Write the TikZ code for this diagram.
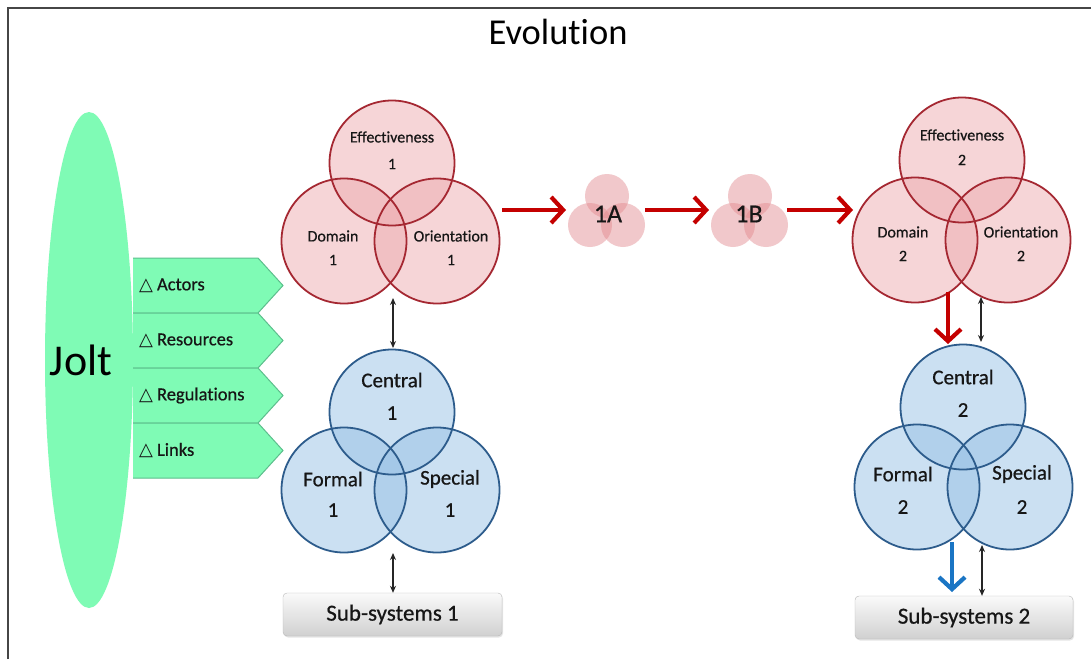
\documentclass[tikz,border=0pt]{standalone}
\usepackage{fontspec}
\setmainfont{Carlito}[Ligatures=NoCommon]
\newfontfamily\lblfont{Carlito}[Ligatures=NoCommon, FakeBold=0.6]
\newfontfamily\symfont{DejaVu Sans}
\usetikzlibrary{arrows.meta,shapes.geometric,shadows}

\definecolor{mint}{RGB}{127,251,181}
\definecolor{mintline}{RGB}{92,190,140}
\definecolor{txt}{RGB}{22,22,22}
\definecolor{frameline}{RGB}{70,70,70}
\definecolor{rA}{RGB}{238,172,177}
\definecolor{rB}{RGB}{226,135,140}
\definecolor{rC}{RGB}{196,88,94}
\definecolor{rrimc}{RGB}{165,40,50}
\definecolor{bA}{RGB}{152,194,230}
\definecolor{bB}{RGB}{122,172,216}
\definecolor{bC}{RGB}{78,132,188}
\definecolor{brimc}{RGB}{45,92,140}
\definecolor{smallred}{RGB}{226,135,140}
\definecolor{arrred}{RGB}{196,0,0}
\definecolor{arrblue}{RGB}{26,117,196}
\definecolor{boxtop}{RGB}{250,250,250}
\definecolor{boxbot}{RGB}{208,208,208}
\definecolor{boxline}{RGB}{185,185,185}

% glassy discs: light centre, darker rim
\pgfdeclareradialshading{redglass}{\pgfpoint{0bp}{0bp}}{color(0bp)=(rA); color(36bp)=(rA); color(46bp)=(rB); color(50bp)=(rC)}
\pgfdeclareradialshading{blueglass}{\pgfpoint{0bp}{0bp}}{color(0bp)=(bA); color(36bp)=(bA); color(46bp)=(bB); color(50bp)=(bC)}

\tikzset{
  rglass/.style={circle, minimum size=125pt, inner sep=0pt, shade, shading=redglass, fill opacity=0.5},
  bglass/.style={circle, minimum size=125pt, inner sep=0pt, shade, shading=blueglass, fill opacity=0.5},
  sglass/.style={circle, minimum size=44pt, inner sep=0pt, fill=smallred, fill opacity=0.45},
  rrim/.style={draw=rrimc, line width=1.8pt},
  brim/.style={draw=brimc, line width=1.8pt},
  rlbl/.style={font=\lblfont\fontsize{16}{18}\selectfont, text=txt, inner sep=0pt},
  blbl/.style={font=\lblfont\fontsize{21}{24}\selectfont, text=txt, inner sep=0pt},
  slbl/.style={font=\lblfont\fontsize{26}{28}\selectfont, text=txt, inner sep=0pt},
  plbl/.style={font=\lblfont\fontsize{18.5}{21}\selectfont, text=txt, inner sep=0pt, anchor=west},
  subbox/.style={rectangle, rounded corners=4pt, draw=boxline, top color=boxtop, bottom color=boxbot,
    font=\lblfont\fontsize{23}{26}\selectfont, text=txt, drop shadow={opacity=0.2, shadow xshift=1pt, shadow yshift=-1.5pt}},
  redarrow/.style={draw=arrred, line width=4.2pt, -{Straight Barb[length=12pt,width=26pt]}},
  bluearrow/.style={draw=arrblue, line width=4.2pt, -{Straight Barb[length=12pt,width=26pt]}},
  dblarrow/.style={draw=black!85, line width=1.2pt, {Stealth[length=7pt,width=6pt]}-{Stealth[length=7pt,width=6pt]}}
}

\begin{document}
\begin{tikzpicture}[x=1pt,y=-1pt]
\useasboundingbox (0,0) rectangle (1091,659);
\fill[white] (0,0) rectangle (1091,659);

% frame
\draw[frameline, line width=2pt] (8,659) -- (8,8) -- (1091,8);

% title
\node[font=\fontsize{36.5}{40}\selectfont, text=black, inner sep=0pt] (title) at (558,32) {Evolution};

% Jolt
\node[ellipse, fill=mint, minimum width=88pt, minimum height=496pt, inner sep=0pt] (jolt) at (89,360) {};
\node[font=\fontsize{44}{48}\selectfont, text=black, inner sep=0pt] (joltT) at (81,360) {Jolt};

% change pentagons
\foreach \lab [count=\i] in {Actors,Resources,Regulations,Links} {
  \pgfmathsetmacro{\y}{258+55*(\i-1)}
  \fill[mint] (133,\y) -- (258,\y) -- (283,\y+27.5) -- (258,\y+55) -- (133,\y+55) -- cycle;
  \draw[mintline, line width=1pt] (133,\y) -- (258,\y) -- (283,\y+27.5) -- (258,\y+55) -- (133,\y+55);
  \node[plbl] (p\i) at (139,\y+27.5) {{\symfont\fontsize{18}{20}\selectfont △}\hspace{4pt}\lab};
}

% red triad, stage 1
\node[rglass] (r1e) at (392,163) {};
\node[rglass] (r1d) at (344,241) {};
\node[rglass] (r1o) at (437,241) {};
\foreach \n in {r1e,r1d,r1o} \draw[rrim] (\n) circle[radius=62.5pt];
\node[rlbl] (r1eT) at (392,137) {Effectiveness};
\node[rlbl] (r1eN) at (392,164) {1};
\node[rlbl] (r1dT) at (333,236) {Domain};
\node[rlbl] (r1dN) at (333,260) {1};
\node[rlbl] (r1oT) at (451,236) {Orientation};
\node[rlbl] (r1oN) at (451,260) {1};

% blue triad, stage 1
\node[bglass] (b1c) at (392,412) {};
\node[bglass] (b1f) at (344,490) {};
\node[bglass] (b1s) at (437,490) {};
\foreach \n in {b1c,b1f,b1s} \draw[brim] (\n) circle[radius=62.5pt];
\node[blbl] (b1cT) at (392,380) {Central};
\node[blbl] (b1cN) at (392,413) {1};
\node[blbl] (b1fT) at (333,479) {Formal};
\node[blbl] (b1fN) at (333,510) {1};
\node[blbl] (b1sT) at (450,479) {Special};
\node[blbl] (b1sN) at (450,510) {1};

% red triad, stage 2
\node[rglass] (r2e) at (962,160) {};
\node[rglass] (r2d) at (915,240) {};
\node[rglass] (r2o) at (1008,240) {};
\foreach \n in {r2e,r2d,r2o} \draw[rrim] (\n) circle[radius=62.5pt];
\node[rlbl] (r2eT) at (962,135) {Effectiveness};
\node[rlbl] (r2eN) at (962,160) {2};
\node[rlbl] (r2dT) at (903,232) {Domain};
\node[rlbl] (r2dN) at (903,256) {2};
\node[rlbl] (r2oT) at (1021,232) {Orientation};
\node[rlbl] (r2oN) at (1021,256) {2};

% blue triad, stage 2
\node[bglass] (b2c) at (963,407) {};
\node[bglass] (b2f) at (917,487) {};
\node[bglass] (b2s) at (1010,487) {};
\foreach \n in {b2c,b2f,b2s} \draw[brim] (\n) circle[radius=62.5pt];
\node[blbl] (b2cT) at (963,377) {Central};
\node[blbl] (b2cN) at (963,410) {2};
\node[blbl] (b2fT) at (903,474) {Formal};
\node[blbl] (b2fN) at (903,507) {2};
\node[blbl] (b2sT) at (1022,474) {Special};
\node[blbl] (b2sN) at (1022,507) {2};

% intermediate stages
\node[sglass] (aT) at (607,196) {};
\node[sglass] (aL) at (590,225) {};
\node[sglass] (aR) at (623,225) {};
\node[slbl] (aLab) at (608,214) {1A};
\node[sglass] (bT) at (750,196) {};
\node[sglass] (bL) at (733,225) {};
\node[sglass] (bR) at (766,225) {};
\node[slbl] (bLab) at (749,214) {1B};

% sub-system boxes
\node[subbox, minimum width=219pt, minimum height=43pt] (sub1) at (392.5,614.5) {Sub-systems 1};
\node[subbox, minimum width=218pt, minimum height=43pt] (sub2) at (964,617.5) {Sub-systems 2};

% connector end points
\coordinate (h1s) at (502,210);  \coordinate (h1e) at (566,210);
\coordinate (h2s) at (645,210);  \coordinate (h2e) at (709,210);
\coordinate (h3s) at (787,210);  \coordinate (h3e) at (853,210);
\coordinate (v1a) at (393,298);  \coordinate (v1b) at (393,348);
\coordinate (v2a) at (393,553);
\coordinate (v3a) at (981,297);  \coordinate (v3b) at (981,342);
\coordinate (v4a) at (982,545);
\coordinate (rd1) at (948,292);  \coordinate (rd2) at (948,344);
\coordinate (bd1) at (952,542);  \coordinate (bd2) at (952,592);

% evolution path
\draw[redarrow] (h1s) -- (h1e);
\draw[redarrow] (h2s) -- (h2e);
\draw[redarrow] (h3s) -- (h3e);
\draw[redarrow] (rd1) -- (rd2);
\draw[bluearrow] (bd1) -- (bd2);

% two-way links
\draw[dblarrow] (v1a) -- (v1b);
\draw[dblarrow] (v2a) -- (v2a |- sub1.north);
\draw[dblarrow] (v3a) -- (v3b);
\draw[dblarrow] (v4a) -- (v4a |- sub2.north);
\end{tikzpicture}
\end{document}
